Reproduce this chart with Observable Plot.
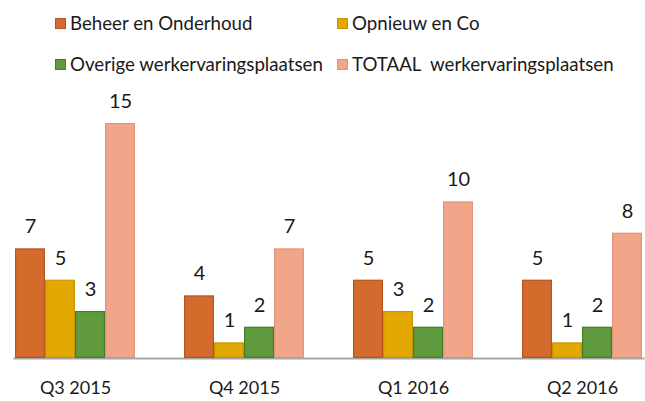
<!DOCTYPE html>
<html><head><meta charset="utf-8">
<script src="https://cdn.jsdelivr.net/npm/d3@7"></script>
<script src="https://cdn.jsdelivr.net/npm/@observablehq/plot@0.6"></script>
<style>
body{margin:0;background:#fff;font-family:Lato,sans-serif;}
#legend{position:relative;width:645px;height:80px;}
.item{position:absolute;display:flex;align-items:center;font-size:18.7px;color:#1a1a1a;white-space:pre;line-height:1}
.sw{width:11px;height:11px;margin-right:4px;box-sizing:border-box;border:1px solid}
</style></head><body><div id="legend"></div><div id="chart"></div><script>
const quarters = ["Q3 2015","Q4 2015","Q1 2016","Q2 2016"];
const series = ["Beheer en Onderhoud","Opnieuw en Co","Overige werkervaringsplaatsen","TOTAAL  werkervaringsplaatsen"];
const beheer = [7,4,5,5];
const opnieuw = [5,1,3,1];
const overige = [3,2,2,2];
const totaal = [15,7,10,8];
const fills = ["#D46B2C","#E2A804","#5F9A3E","#F1A68A"];
const strokes = ["#B5541E","#C99400","#437E2A","#E4937A"];

const values = [beheer, opnieuw, overige, totaal];
const data = quarters.flatMap((q,i)=>values.map((arr,j)=>({quarter:q, series:series[j], value:arr[i]})));
const fillMap = Object.fromEntries(series.map((s,j)=>[s,fills[j]]));
const strokeMap = Object.fromEntries(series.map((s,j)=>[s,strokes[j]]));

// legend
const legendPos = [[55,23],[337,23],[55,64],[337,64]];
const legend = document.getElementById("legend");
series.forEach((s,j)=>{
  const it = document.createElement("div");
  it.className="item";
  it.style.left = legendPos[j][0]+"px";
  it.style.top = (legendPos[j][1]-9)+"px";
  it.style.height="18px";
  const sw = document.createElement("span");
  sw.className="sw"; sw.style.background=fills[j]; sw.style.borderColor=strokes[j];
  const tx = document.createElement("span"); tx.textContent = s;
  it.appendChild(sw); it.appendChild(tx);
  legend.appendChild(it);
});

const chart = Plot.plot({
  width:645, height:321, marginTop:43, marginBottom:43, marginLeft:7, marginRight:-6,
  style:{fontFamily:"Lato, sans-serif", fontSize:"18px", color:"#1a1a1a", background:"transparent", overflow:"visible"},
  fx:{domain:quarters, paddingInner:0.278, paddingOuter:0.035, label:null, axis:"bottom", tickSize:0, tickPadding:23},
  x:{domain:series, padding:0, axis:null},
  y:{domain:[0,15], axis:null},
  color:{type:"identity"},
  marks:[
    Plot.frame({anchor:"bottom", facet:"super", stroke:"#a6a6a6", strokeWidth:2}),
    Plot.barY(data,{fx:"quarter", x:"series", y:"value", fill:d=>fillMap[d.series], stroke:d=>strokeMap[d.series], strokeWidth:1.2, inset:0.6}),
    Plot.text(data,{fx:"quarter", x:"series", y:"value", text:"value", dy:-22, fontSize:20, fill:"#1a1a1a"})
  ]
});
document.getElementById("chart").appendChild(chart);
</script></body></html>
